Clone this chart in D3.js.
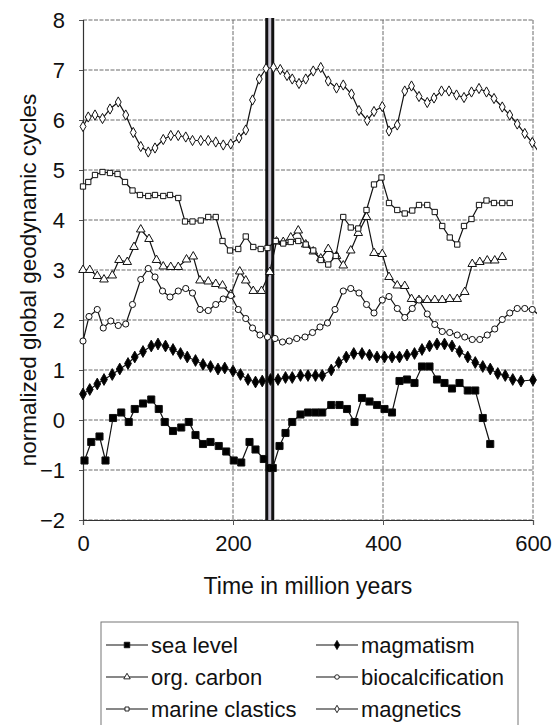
<!DOCTYPE html>
<html><head><meta charset="utf-8">
<script src="https://cdn.jsdelivr.net/npm/d3@7"></script>
<style>body{margin:0;background:#fff}svg{display:block}text{font-family:"Liberation Sans",Arial,sans-serif;fill:#111}</style>
</head><body>
<svg id="c" width="554" height="725"></svg>
<script>
const seriesNames = ["sea level","magmatism","org. carbon","biocalcification","marine clastics","magnetics"];
const xTicks = [0,200,400,600];
const yTicks = [-2,-1,0,1,2,3,4,5,6,7,8];
const ptBoundary = [245,253];

const seaLevel = [[2,-0.81],[11,-0.44],[22,-0.33],[30,-0.81],[40,0.04],[51,0.15],[61,-0.04],[69,0.22],[80,0.33],[91,0.41],[101,0.22],[109,-0.04],[120,-0.22],[131,-0.15],[141,-0.04],[150,-0.30],[160,-0.48],[170,-0.44],[181,-0.52],[191,-0.63],[201,-0.81],[211,-0.85],[222,-0.44],[230,-0.59],[241,-0.78],[249,-0.96],[253,-0.96],[262,-0.52],[270,-0.26],[279,-0.04],[290,0.11],[300,0.15],[310,0.15],[319,0.15],[331,0.30],[342,0.30],[352,0.22],[362,-0.04],[372,0.44],[382,0.37],[392,0.30],[402,0.22],[412,0.15],[422,0.78],[432,0.81],[442,0.74],[452,1.07],[462,1.07],[472,0.81],[482,0.74],[492,0.63],[502,0.74],[513,0.59],[523,0.59],[533,0.04],[543,-0.48]];
const magmatism = [[0,0.52],[9,0.61],[19,0.72],[28,0.81],[39,0.91],[49,1.02],[60,1.13],[69,1.26],[80,1.37],[91,1.48],[100,1.52],[110,1.48],[120,1.41],[130,1.33],[139,1.26],[150,1.19],[160,1.11],[170,1.07],[180,1.02],[189,1.04],[200,0.98],[210,0.91],[220,0.81],[230,0.76],[239,0.78],[250,0.81],[260,0.81],[270,0.85],[279,0.85],[290,0.89],[300,0.89],[310,0.89],[319,0.89],[331,1.00],[341,1.15],[351,1.26],[361,1.33],[372,1.33],[382,1.30],[392,1.26],[402,1.26],[412,1.26],[422,1.26],[432,1.30],[442,1.33],[452,1.41],[462,1.48],[472,1.52],[482,1.52],[492,1.48],[502,1.37],[513,1.26],[523,1.15],[533,1.07],[543,1.02],[553,0.93],[563,0.89],[573,0.81],[584,0.78],[600,0.80]];
const orgCarbon = [[0,3.00],[9,3.00],[19,2.88],[28,2.81],[39,2.89],[48,3.20],[59,3.16],[68,3.46],[77,3.81],[88,3.62],[98,3.20],[107,3.07],[117,3.06],[127,3.06],[138,3.21],[147,3.27],[156,2.79],[167,2.77],[177,2.72],[186,2.69],[197,2.51],[209,2.97],[217,2.79],[227,2.58],[238,2.58],[249,2.96],[258,3.57],[267,3.56],[277,3.65],[287,3.79],[297,3.51],[307,3.37],[317,3.23],[327,3.42],[338,3.28],[347,3.09],[357,3.39],[367,3.74],[378,4.06],[388,3.34],[399,3.32],[408,2.86],[419,2.69],[429,2.68],[438,2.42],[448,2.40],[459,2.40],[469,2.40],[479,2.40],[489,2.42],[499,2.42],[509,2.56],[519,3.12],[529,3.16],[539,3.19],[549,3.19],[559,3.26]];
const biocalcification = [[0,1.58],[8,2.07],[19,2.21],[27,1.84],[37,1.98],[47,1.89],[57,1.92],[66,2.31],[77,2.81],[87,3.03],[96,2.86],[106,2.58],[116,2.46],[127,2.58],[137,2.63],[146,2.54],[156,2.21],[167,2.19],[177,2.31],[187,2.42],[197,2.49],[207,2.21],[217,2.03],[226,1.84],[236,1.70],[246,1.66],[256,1.63],[266,1.56],[275,1.58],[285,1.63],[296,1.66],[306,1.75],[316,1.86],[326,1.94],[336,2.21],[347,2.58],[357,2.63],[368,2.54],[378,2.31],[388,2.14],[399,2.40],[408,2.47],[419,2.23],[429,2.05],[439,2.23],[448,2.40],[459,2.12],[469,1.91],[479,1.77],[489,1.75],[499,1.70],[509,1.66],[519,1.61],[529,1.61],[539,1.70],[549,1.82],[559,2.01],[569,2.14],[579,2.23],[589,2.23],[599,2.21],[608,2.10]];
const marineClastics = [[0,4.67],[7,4.76],[16,4.90],[26,4.96],[36,4.94],[46,4.92],[56,4.76],[66,4.59],[76,4.50],[87,4.48],[96,4.50],[107,4.48],[116,4.50],[127,4.44],[136,3.97],[146,3.97],[157,3.99],[167,4.06],[177,4.06],[186,3.58],[196,3.39],[207,3.42],[217,3.67],[227,3.46],[237,3.42],[246,3.44],[257,3.58],[267,3.53],[277,3.56],[287,3.58],[297,3.51],[307,3.39],[317,3.20],[327,3.11],[337,3.28],[347,4.06],[357,3.85],[367,3.83],[378,4.20],[388,4.71],[398,4.85],[408,4.34],[419,4.20],[429,4.13],[439,4.19],[448,4.30],[459,4.30],[469,4.16],[479,3.88],[489,3.65],[499,3.51],[508,3.88],[518,4.02],[528,4.30],[538,4.39],[548,4.34],[559,4.34],[569,4.34]];
const magnetics = [[0,5.87],[7,6.06],[16,6.10],[26,6.03],[36,6.22],[47,6.36],[57,6.10],[67,5.75],[77,5.47],[87,5.36],[96,5.44],[107,5.61],[117,5.69],[127,5.69],[137,5.66],[146,5.59],[157,5.59],[167,5.59],[177,5.56],[187,5.50],[197,5.52],[208,5.64],[217,5.80],[226,6.40],[235,6.82],[244,7.03],[254,7.05],[263,7.01],[272,6.89],[279,6.82],[288,6.73],[297,6.82],[307,6.98],[317,7.05],[327,6.78],[338,6.64],[347,6.70],[358,6.52],[368,6.19],[379,5.99],[388,6.17],[399,6.27],[408,5.78],[419,5.90],[429,6.58],[438,6.68],[448,6.47],[459,6.35],[468,6.44],[478,6.58],[488,6.58],[498,6.50],[508,6.45],[518,6.56],[528,6.63],[538,6.56],[548,6.43],[559,6.26],[569,6.10],[579,5.92],[589,5.73],[599,5.55],[608,5.35]];

const svg = d3.select("#c");
const x = d3.scaleLinear().domain([0,600]).range([83,533]);
const y = d3.scaleLinear().domain([-2,8]).range([520,20]);

// gridlines
const grid = svg.append("g");
grid.selectAll("line.h").data(yTicks).join("line")
  .attr("x1", x(0)).attr("x2", x(600)).attr("y1", d=>y(d)).attr("y2", d=>y(d))
  .attr("stroke","#6a6a6a").attr("stroke-width",1).attr("stroke-dasharray","4,1.5");
grid.selectAll("line.v").data(xTicks.filter(d=>d>0)).join("line")
  .attr("x1", d=>x(d)).attr("x2", d=>x(d)).attr("y1", y(8)).attr("y2", y(-2))
  .attr("stroke","#6a6a6a").attr("stroke-width",1).attr("stroke-dasharray","4,1.5");

// axes
const ax = svg.append("g").attr("transform",`translate(0,${y(-2)})`)
  .call(d3.axisBottom(x).tickValues(xTicks).tickSize(5).tickPadding(10).tickFormat(d3.format("d")));
const ay = svg.append("g").attr("transform",`translate(${x(0)},0)`)
  .call(d3.axisLeft(y).tickValues(yTicks).tickSize(4).tickPadding(14).tickFormat(d3.format("d")));
[ax,ay].forEach(a=>{
  a.select(".domain").attr("stroke","#333").attr("stroke-width",1.2);
  a.selectAll(".tick line").attr("stroke","#555");
  a.selectAll(".tick text").attr("font-size",22).attr("font-family","Liberation Sans, Arial, sans-serif").attr("fill","#111");
});

// PT boundary band
svg.append("rect").attr("x", x(ptBoundary[0])).attr("y", y(8)-2)
  .attr("width", x(ptBoundary[1])-x(ptBoundary[0])).attr("height", y(-2)-y(8)+2)
  .attr("fill","#c9c5d3");
svg.selectAll("line.pt").data(ptBoundary).join("line")
  .attr("x1", d=>x(d)).attr("x2", d=>x(d)).attr("y1", y(8)-2).attr("y2", y(-2))
  .attr("stroke","#111").attr("stroke-width",3);

// series
const clip = svg.append("clipPath").attr("id","pc").append("rect")
  .attr("x", x(0)-8).attr("y", y(8)-8).attr("width", x(600)-x(0)+12).attr("height", y(-2)-y(8)+16);
const series = [
  {data: seaLevel, sym: d3.symbolSquare, size: 50, fill: "#000"},
  {data: magmatism, sym: d3.symbolDiamond, size: 40, fill: "#000"},
  {data: orgCarbon, sym: d3.symbolTriangle, size: 32, fill: "#fff"},
  {data: biocalcification, sym: d3.symbolCircle, size: 30, fill: "#fff"},
  {data: marineClastics, sym: d3.symbolSquare, size: 28, fill: "#fff"},
  {data: magnetics, sym: d3.symbolDiamond, size: 30, fill: "#fff"}
];
const line = d3.line().x(d=>x(d[0])).y(d=>y(d[1]));
const gs = svg.append("g").attr("clip-path","url(#pc)");
series.forEach(s=>{
  gs.append("path").attr("d", line(s.data)).attr("fill","none").attr("stroke","#111").attr("stroke-width",1.2);
  gs.selectAll(null).data(s.data.filter(d=>d[0]<=600)).join("path")
    .attr("transform", d=>`translate(${x(d[0])},${y(d[1])})`)
    .attr("d", d3.symbol().type(s.sym).size(s.size))
    .attr("fill", s.fill).attr("stroke","#111").attr("stroke-width",1);
});

// axis titles
svg.append("text").attr("x", (x(0)+x(600))/2).attr("y", 594).attr("text-anchor","middle")
  .attr("font-size",23).text("Time in million years");
svg.append("text").attr("transform","translate(36,280) rotate(-90)").attr("text-anchor","middle")
  .attr("font-size",22.5).text("normalized global geodynamic cycles");

// legend
const lg = svg.append("g");
lg.append("rect").attr("x",101).attr("y",622).attr("width",417).attr("height",110)
  .attr("fill","none").attr("stroke","#777").attr("stroke-width",1);
const legPos = [[106,645],[316,645],[106,677],[316,677],[106,709],[316,709]];
const legSizes = [30,24,18,16,16,16];
series.forEach((s,i)=>{
  const [lx,ly] = legPos[i];
  lg.append("line").attr("x1",lx).attr("x2",lx+42).attr("y1",ly).attr("y2",ly).attr("stroke","#111").attr("stroke-width",1.2);
  lg.append("path").attr("transform",`translate(${lx+21},${ly})`)
    .attr("d", d3.symbol().type(s.sym).size(legSizes[i])).attr("fill",s.fill).attr("stroke","#111").attr("stroke-width",0.9);
  lg.append("text").attr("x",lx+45).attr("y",ly+8).attr("font-size",22).text(seriesNames[i]);
});
</script>
</body></html>
